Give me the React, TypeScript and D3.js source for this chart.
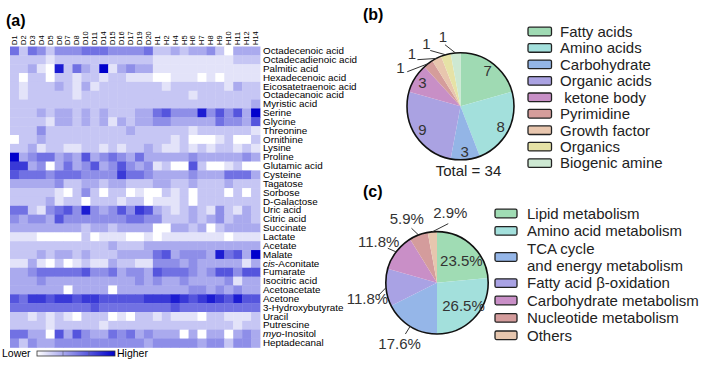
import * as d3 from "d3";

const FONT = "Liberation Sans, Arial, Helvetica, sans-serif";

// ---- (a) heatmap data ----
const samples = ["D1", "D2", "D3", "D4", "D5", "D6", "D7", "D8", "D10", "D11", "D14", "D15", "D16", "D17", "D19", "D20",
  "H1", "H2", "H4", "H5", "H6", "H7", "H8", "H9", "H10", "H11", "H12", "H14"];

const metabolites = ["Octadecenoic acid", "Octadecadienoic acid", "Palmitic acid", "Hexadecenoic acid",
  "Eicosatetraenoic acid", "Octadecanoic acid", "Myristic acid", "Serine", "Glycine", "Threonine", "Ornithine",
  "Lysine", "Proline", "Glutamic acid", "Cysteine", "Tagatose", "Sorbose", "D-Galactose", "Uric acid", "Citric acid",
  "Succinate", "Lactate", "Acetate", "Malate", "cis-Aconitate", "Fumarate", "Isocitric acid", "Acetoacetate",
  "Acetone", "3-Hydroxybutyrate", "Uracil", "Putrescine", "myo-Inositol", "Heptadecanal"];

// relative level, 0 = lower ... 9 = higher
const levels: number[][] = [
  [5, 2, 5, 4, 2, 4, 4, 4, 5, 5, 5, 4, 4, 4, 4, 5, 2, 2, 3, 2, 3, 3, 4, 2, 0, 3, 3, 3],
  [2, 2, 2, 2, 1, 2, 2, 2, 2, 2, 2, 2, 2, 2, 2, 2, 1, 1, 1, 1, 1, 1, 1, 1, 1, 2, 2, 2],
  [2, 2, 3, 1, 0, 8, 2, 5, 3, 2, 9, 1, 3, 4, 3, 3, 1, 1, 1, 1, 1, 1, 1, 1, 1, 1, 1, 1],
  [2, 0, 2, 2, 0, 2, 2, 1, 2, 2, 1, 2, 2, 1, 1, 1, 0, 0, 1, 1, 1, 0, 1, 0, 1, 1, 1, 1],
  [2, 1, 2, 2, 2, 3, 2, 1, 3, 1, 2, 2, 2, 2, 2, 2, 2, 1, 2, 2, 2, 2, 2, 2, 1, 3, 2, 2],
  [2, 1, 2, 2, 2, 2, 2, 1, 2, 2, 2, 2, 2, 2, 2, 2, 2, 2, 2, 2, 1, 2, 2, 2, 2, 2, 2, 2],
  [2, 2, 2, 2, 2, 2, 2, 2, 2, 2, 2, 2, 2, 2, 2, 2, 2, 2, 2, 2, 2, 2, 2, 2, 2, 2, 2, 3],
  [2, 2, 2, 3, 2, 3, 3, 2, 3, 2, 3, 2, 2, 2, 3, 3, 5, 6, 4, 4, 4, 8, 4, 6, 4, 6, 3, 9],
  [2, 2, 2, 2, 1, 3, 3, 2, 3, 2, 3, 1, 3, 2, 3, 3, 4, 4, 3, 3, 3, 3, 3, 5, 4, 4, 3, 6],
  [2, 2, 2, 4, 2, 2, 2, 2, 2, 2, 2, 2, 2, 3, 2, 2, 2, 2, 2, 2, 1, 2, 2, 2, 2, 2, 2, 1],
  [0, 2, 2, 3, 2, 2, 2, 2, 2, 2, 2, 2, 2, 2, 2, 2, 2, 2, 1, 2, 0, 0, 0, 1, 2, 0, 0, 2],
  [2, 2, 3, 1, 2, 2, 1, 1, 2, 2, 1, 2, 1, 2, 2, 3, 2, 1, 1, 2, 1, 2, 1, 2, 2, 1, 2, 1],
  [9, 3, 4, 5, 5, 3, 4, 3, 6, 3, 4, 5, 4, 3, 5, 3, 3, 3, 3, 3, 4, 3, 3, 3, 3, 3, 4, 3],
  [7, 7, 3, 4, 0, 3, 5, 3, 4, 6, 3, 4, 6, 4, 3, 4, 1, 2, 0, 0, 6, 2, 0, 0, 1, 2, 0, 0],
  [6, 5, 5, 5, 4, 5, 5, 5, 4, 4, 4, 4, 7, 5, 5, 4, 3, 3, 3, 3, 4, 3, 3, 3, 5, 5, 5, 3],
  [3, 3, 3, 3, 3, 4, 2, 2, 3, 3, 2, 3, 3, 2, 2, 2, 3, 3, 2, 2, 3, 2, 2, 2, 3, 2, 2, 2],
  [2, 2, 2, 2, 2, 1, 0, 2, 4, 2, 0, 2, 2, 0, 1, 0, 0, 2, 1, 2, 0, 2, 2, 2, 0, 2, 0, 2],
  [2, 2, 2, 2, 3, 1, 2, 2, 0, 2, 2, 2, 1, 2, 2, 0, 1, 1, 1, 2, 0, 2, 2, 2, 2, 2, 2, 2],
  [5, 5, 2, 1, 4, 5, 6, 4, 8, 4, 3, 4, 6, 4, 7, 6, 3, 2, 1, 2, 3, 2, 1, 4, 2, 1, 3, 2],
  [4, 3, 4, 4, 3, 6, 4, 4, 4, 4, 4, 4, 4, 5, 5, 4, 4, 2, 2, 2, 3, 2, 3, 4, 2, 3, 3, 2],
  [3, 3, 3, 3, 3, 3, 3, 3, 2, 3, 3, 2, 3, 3, 3, 3, 0, 0, 3, 3, 2, 3, 0, 2, 3, 3, 3, 3],
  [1, 1, 1, 0, 0, 0, 0, 0, 2, 0, 1, 1, 1, 0, 0, 1, 0, 1, 1, 1, 1, 1, 1, 1, 0, 1, 1, 1],
  [2, 2, 2, 2, 2, 2, 2, 2, 2, 2, 2, 3, 2, 2, 2, 3, 3, 3, 3, 3, 3, 3, 3, 3, 3, 3, 3, 3],
  [2, 2, 2, 3, 2, 3, 3, 2, 3, 2, 2, 2, 3, 3, 3, 3, 5, 6, 3, 4, 4, 4, 3, 8, 5, 6, 3, 9],
  [1, 1, 3, 1, 0, 2, 0, 1, 2, 1, 1, 3, 2, 2, 1, 1, 4, 4, 4, 3, 4, 3, 3, 3, 3, 3, 1, 3],
  [3, 3, 4, 5, 5, 5, 5, 5, 6, 4, 4, 5, 3, 4, 4, 3, 6, 5, 5, 5, 4, 3, 4, 6, 6, 4, 6, 6],
  [3, 3, 3, 4, 3, 3, 3, 3, 3, 3, 3, 3, 3, 3, 4, 3, 4, 3, 3, 4, 3, 3, 3, 3, 4, 1, 3, 3],
  [3, 3, 3, 3, 3, 3, 0, 3, 3, 3, 3, 0, 3, 3, 3, 3, 3, 3, 3, 3, 4, 4, 3, 4, 3, 4, 3, 3],
  [6, 5, 7, 7, 6, 7, 7, 6, 7, 7, 6, 6, 6, 6, 6, 7, 7, 7, 8, 7, 6, 7, 8, 7, 6, 8, 6, 6],
  [5, 5, 5, 5, 5, 5, 5, 5, 5, 6, 5, 5, 5, 5, 5, 5, 5, 5, 6, 5, 5, 5, 5, 5, 5, 5, 5, 5],
  [2, 2, 1, 2, 1, 2, 1, 0, 2, 2, 2, 0, 1, 0, 2, 2, 1, 2, 1, 1, 1, 0, 2, 2, 1, 1, 1, 2],
  [2, 2, 2, 2, 1, 2, 2, 2, 2, 2, 1, 2, 2, 2, 2, 2, 2, 2, 2, 2, 2, 2, 2, 2, 2, 1, 2, 2],
  [5, 5, 3, 3, 0, 6, 3, 6, 4, 3, 3, 5, 4, 5, 3, 4, 3, 3, 3, 0, 3, 0, 3, 3, 0, 3, 4, 3],
  [4, 2, 4, 3, 3, 4, 4, 4, 4, 4, 4, 4, 4, 4, 4, 3, 4, 4, 4, 4, 4, 3, 4, 4, 2, 4, 4, 3],
];

// ---- (b) compound classes ----
const classNames = ["Fatty acids", "Amino acids", "Carbohydrate", "Organic acids", " ketone body", "Pyrimidine",
  "Growth factor", "Organics", "Biogenic amine"];
const classCounts = [7, 8, 3, 9, 3, 1, 1, 1, 1];
const classColors = ["#9fdab3", "#a3e0dc", "#93b5e6", "#aaa2e2", "#c88fc6", "#d59d9b", "#e8c6ae", "#e6e2a6", "#cde8d2"];

// ---- (c) pathways ----
const pathwayNames = ["Lipid metabolism", "Amino acid metabolism", "TCA cycle|and energy metabolism",
  "Fatty acid β-oxidation", "Carbohydrate metabolism", "Nucleotide metabolism", "Others"];
const pathwayShares = [23.5, 26.5, 17.6, 11.8, 11.8, 5.9, 2.9];
const pathwayColors = ["#a0dcb4", "#a3e0dc", "#95b6e8", "#a9a2e4", "#c98fc7", "#d49c9c", "#e6c6ae"];

const deg = Math.PI / 180;
const polar = (a: number, r: number): [number, number] => [Math.sin(a) * r, -Math.cos(a) * r];

function Heatmap() {
  const x = d3.scaleBand().domain(samples).range([10, 260]);
  const y = d3.scaleBand().domain(metabolites).range([46.5, 347.4]);
  const color = d3.scaleLinear<string>().domain([0, 9]).range(["#ffffff", "#0000cc"]);
  return (
    <g fontFamily={FONT}>
      <text x={6} y={25.5} fontSize={16} fontWeight="bold">(a)</text>
      {samples.map(s => (
        <text key={s} transform={`translate(${x(s)! + x.bandwidth() / 2 + 2.4},45) rotate(-90) scale(1.1,1)`} fontSize={6.8}>{s}</text>
      ))}
      {levels.map((row, i) =>
        row.map((v, j) => (
          <rect key={`${i}-${j}`} x={x(samples[j])} y={y(metabolites[i])} width={x.bandwidth() + 0.4}
            height={y.bandwidth() + 0.4} fill={color(v)} />
        ))
      )}
      {metabolites.map(m => {
        const m2 = m.match(/^(cis|myo)-(.*)$/);
        return (
          <text key={m} transform={`translate(263,${y(m)! + y.bandwidth() / 2 + 3.2}) scale(1.12,1)`} fontSize={8.8}>
            {m2 ? <><tspan fontStyle="italic">{m2[1]}</tspan>-{m2[2]}</> : m}
          </text>
        );
      })}
      <defs>
        <linearGradient id="cbar">
          {d3.range(0, 10).map(v => <stop key={v} offset={`${(v / 9) * 100}%`} stopColor={color(v)} />)}
        </linearGradient>
      </defs>
      <text x={2} y={357} fontSize={10.5}>Lower</text>
      <rect x={37} y={351} width={78} height={5} fill="url(#cbar)" stroke="#333" strokeWidth={0.8} />
      <line x1={63} x2={63} y1={351} y2={356} stroke="#556" strokeWidth={0.6} />
      <line x1={89} x2={89} y1={351} y2={356} stroke="#556" strokeWidth={0.6} />
      <text x={117} y={357} fontSize={10.5}>Higher</text>
    </g>
  );
}

function ClassPie() {
  const cx = 460.5, cy = 106.3, R = 53.5;
  const arcs = d3.pie<number>().sort(null)(classCounts);
  const arc = d3.arc<d3.PieArcDatum<number>>().innerRadius(0).outerRadius(R);
  return (
    <g fontFamily={FONT}>
      <text x={363} y={20} fontSize={16} fontWeight="bold">(b)</text>
      <g transform={`translate(${cx},${cy})`}>
        {arcs.map((a, i) => <path key={i} d={arc(a)!} fill={classColors[i]} />)}
        <circle r={R} fill="none" stroke="#111" strokeWidth={1.6} />
        {arcs.map((a, i) => {
          const mid = (a.startAngle + a.endAngle) / 2;
          if (a.value > 1) {
            const [tx, ty] = polar(mid, R * 0.84);
            return <text key={i} x={tx} y={ty + 5.5} fontSize={15} textAnchor="middle" fill="#333">{a.value}</text>;
          }
          const la = (mid - 2 * Math.PI) * 1.35 - 7 * deg;
          const [x1, y1] = polar(mid, R);
          const [x2, y2] = polar(la, R + 10);
          const [tx, ty] = polar(la, R + 18);
          return (
            <g key={i}>
              <line x1={x1} y1={y1} x2={x2} y2={y2} stroke="#333" strokeWidth={1} />
              <text x={tx} y={ty + 5.5} fontSize={15} textAnchor="middle" fill="#333">{a.value}</text>
            </g>
          );
        })}
        <text x={8} y={R + 16} fontSize={15} textAnchor="middle" fill="#222">Total = {d3.sum(classCounts)}</text>
      </g>
      {classNames.map((n, i) => {
        const yc = 31.5 + i * 16.45;
        return (
          <g key={n}>
            <rect x={528} y={yc - 4.3} width={23.5} height={8.6} rx={1.5} fill={classColors[i]} stroke="#222" strokeWidth={1.3} />
            <text x={560} y={yc + 5.3} fontSize={15} fill="#222" style={{ whiteSpace: "pre" }}>{n}</text>
          </g>
        );
      })}
    </g>
  );
}

function PathwayPie() {
  const cx = 437, cy = 282.8, R = 51.2;
  const arcs = d3.pie<number>().sort(null)(pathwayShares);
  const arc = d3.arc<d3.PieArcDatum<number>>().innerRadius(0).outerRadius(R);
  const nudge = [0, 0, 0, -7, -2, -4, 16];
  let line = 0;
  return (
    <g fontFamily={FONT}>
      <text x={363} y={197} fontSize={16} fontWeight="bold">(c)</text>
      <g transform={`translate(${cx},${cy})`}>
        {arcs.map((a, i) => <path key={i} d={arc(a)!} fill={pathwayColors[i]} />)}
        <circle r={R} fill="none" stroke="#111" strokeWidth={1.6} />
        {arcs.map((a, i) => {
          const mid = (a.startAngle + a.endAngle) / 2;
          const label = `${a.value.toFixed(1)}%`;
          if (a.value > 20) {
            const [tx, ty] = polar(mid, R * 0.62);
            return <text key={i} x={tx + 3} y={ty + 7} fontSize={15} textAnchor="middle" fill="#333">{label}</text>;
          }
          const la = mid + nudge[i] * deg;
          const [x1, y1] = polar(mid, R);
          const [x2, y2] = polar(la, R + 9);
          const [tx, ty] = polar(la, R + 20);
          return (
            <g key={i}>
              <line x1={x1} y1={y1} x2={x2} y2={y2} stroke="#333" strokeWidth={1} />
              <text x={tx} y={ty + 5.5} fontSize={15} textAnchor="middle" fill="#333">{label}</text>
            </g>
          );
        })}
      </g>
      {pathwayNames.map((n, i) => {
        const parts = n.split("|");
        const y0 = 213.5 + line * 17.4;
        line += parts.length;
        const yc = y0 + (parts.length - 1) * 17.4 / 2;
        return (
          <g key={n}>
            <rect x={495} y={yc - 4.3} width={22} height={8.6} rx={1.5} fill={pathwayColors[i]} stroke="#222" strokeWidth={1.3} />
            {parts.map((p, k) => (
              <text key={k} x={527} y={y0 + k * 17.4 + 5.3} fontSize={15} fill="#222">{p}</text>
            ))}
          </g>
        );
      })}
    </g>
  );
}

export default function App() {
  return (
    <svg width={712} height={369} style={{ position: "absolute", left: 0, top: 0, background: "#fff" }}>
      <Heatmap />
      <ClassPie />
      <PathwayPie />
    </svg>
  );
}
